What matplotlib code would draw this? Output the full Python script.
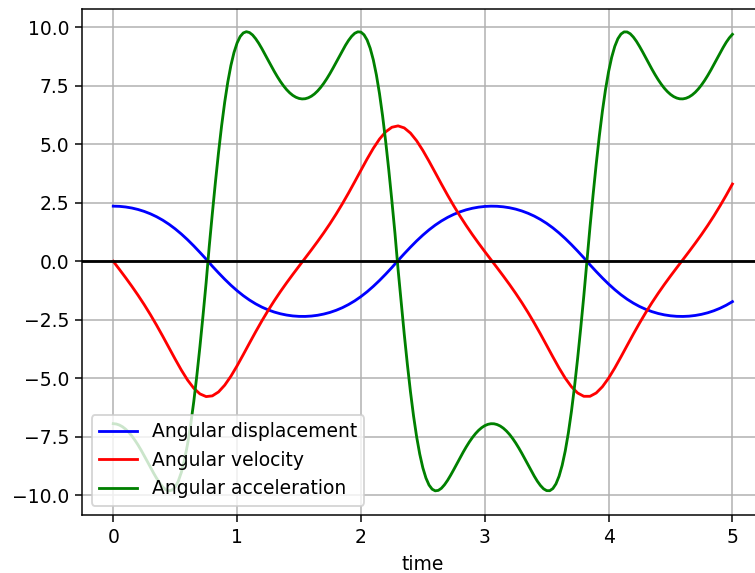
import numpy as np
import matplotlib
matplotlib.use('Agg')
import matplotlib.pyplot as plt

# time grids: 0.05 s for displacement / velocity, 0.025 s for acceleration
time = np.linspace(0, 5, 101)
time_acc = np.linspace(0, 5, 201)

angular_displacement = [
    2.356, 2.348, 2.321, 2.277, 2.214, 2.132, 2.029, 1.904, 1.756, 1.583,
    1.386, 1.165, 0.922, 0.659, 0.380, 0.093,
    -0.209, -0.493, -0.766, -1.022, -1.256, -1.468, -1.655, -1.818, -1.957,
    -2.073, -2.168, -2.242, -2.297, -2.334, -2.353,
    -2.355, -2.339, -2.306, -2.254, -2.184, -2.093, -1.982, -1.847, -1.690,
    -1.507, -1.301, -1.070, -0.819, -0.549, -0.266,
    0.035, 0.324, 0.604, 0.871, 1.118, 1.344, 1.546, 1.723, 1.876, 2.006,
    2.113, 2.200, 2.266, 2.314, 2.344, 2.356,
    2.351, 2.328, 2.288, 2.229, 2.150, 2.051, 1.931, 1.787, 1.620, 1.428,
    1.211, 0.972, 0.712, 0.437, 0.151,
    -0.151, -0.437, -0.712, -0.972, -1.211, -1.428, -1.620, -1.787, -1.931,
    -2.051, -2.150, -2.229, -2.288, -2.328, -2.351,
    -2.356, -2.344, -2.314, -2.266, -2.200, -2.113, -2.006, -1.876, -1.723,
]

angular_velocity = [
    0.000, -0.347, -0.701, -1.067, -1.449, -1.852, -2.279, -2.731, -3.205,
    -3.692, -4.180, -4.649, -5.073, -5.421, -5.665, -5.780,
    -5.750, -5.582, -5.293, -4.911, -4.465, -3.986, -3.496, -3.013, -2.547,
    -2.105, -1.688, -1.293, -0.919, -0.559, -0.208,
    0.139, 0.488, 0.846, 1.217, 1.607, 2.020, 2.457, 2.918, 3.399, 3.888,
    4.372, 4.826, 5.223, 5.533, 5.727,
    5.786, 5.699, 5.479, 5.150, 4.738, 4.276, 3.790, 3.301, 2.824, 2.368,
    1.935, 1.528, 1.141, 0.773, 0.417, 0.069,
    -0.277, -0.630, -0.992, -1.371, -1.769, -2.192, -2.639, -3.108, -3.594,
    -4.083, -4.558, -4.993, -5.359, -5.626, -5.768,
    -5.768, -5.626, -5.359, -4.993, -4.558, -4.083, -3.594, -3.108, -2.639,
    -2.192, -1.769, -1.371, -0.992, -0.630, -0.277,
    0.069, 0.417, 0.773, 1.141, 1.528, 1.935, 2.368, 2.824, 3.301,
]

angular_acceleration = [
    -6.937, -6.952, -6.997, -7.071, -7.174, -7.305, -7.462, -7.644, -7.847,
    -8.069, -8.305, -8.550, -8.798, -9.041, -9.271, -9.475, -9.643, -9.759,
    -9.809, -9.776, -9.643, -9.395, -9.014, -8.491, -7.815, -6.985, -6.003,
    -4.884, -3.642, -2.309, -0.913,
    0.630, 2.034, 3.382, 4.644, 5.790, 6.800, 7.661, 8.367, 8.921, 9.328,
    9.604, 9.757, 9.810, 9.774, 9.671, 9.511, 9.314, 9.088, 8.848, 8.599,
    8.354, 8.115, 7.890, 7.682, 7.497, 7.334, 7.198, 7.089, 7.010, 6.959,
    6.937, 6.946, 6.986, 7.054, 7.151, 7.277, 7.429, 7.606, 7.805, 8.023,
    8.257, 8.501, 8.749, 8.995, 9.227, 9.438, 9.613, 9.742, 9.805, 9.792,
    9.679, 9.456, 9.101, 8.608, 7.962, 7.163, 6.211, 5.117, 3.898, 2.580,
    1.194,
    -0.346, -1.755, -3.119, -4.399, -5.572, -6.609, -7.501, -8.238, -8.823,
    -9.258, -9.559, -9.735, -9.807, -9.788, -9.697, -9.547, -9.357, -9.135,
    -8.897, -8.649, -8.402, -8.162, -7.934, -7.722, -7.532, -7.365, -7.223,
    -7.109, -7.023, -6.967, -6.939, -6.942, -6.976, -7.038, -7.130, -7.250,
    -7.396, -7.569, -7.763, -7.978, -8.209, -8.452, -8.699, -8.946, -9.181,
    -9.398, -9.581, -9.721, -9.798, -9.801, -9.709, -9.510, -9.183, -8.718,
    -8.103, -7.335, -6.413, -5.347, -4.151, -2.851, -1.475,
    0.000, 1.475, 2.851, 4.151, 5.347, 6.413, 7.335, 8.103, 8.718, 9.183,
    9.510, 9.709, 9.801, 9.798, 9.721, 9.581, 9.398, 9.181, 8.946, 8.699,
    8.452, 8.209, 7.978, 7.763, 7.569, 7.396, 7.250, 7.130, 7.038, 6.976,
    6.942, 6.939, 6.967, 7.023, 7.109, 7.223, 7.365, 7.532, 7.722, 7.934,
    8.162, 8.402, 8.649, 8.897, 9.135, 9.357, 9.547, 9.697,
]

dpi = 135
fig = plt.figure(figsize=(755 / dpi, 573 / dpi), dpi=dpi)
# the right edge of the axes runs past the picture, as in the original
ax = fig.add_axes([0.109, 0.1012, 0.9021, 0.8831])

ax.plot(time, angular_displacement, 'b', label='Angular displacement')
ax.plot(time, angular_velocity, 'r', label='Angular velocity')
ax.plot(time_acc, angular_acceleration, 'g', label='Angular acceleration')
ax.axhline(0, color='k', linewidth=1.5)

ax.set_xlim(-0.25, 5.25)
ax.set_ylim(-10.84, 10.78)
ax.set_xlabel('time')
ax.grid(True)
ax.legend(loc='lower left')

fig.savefig('out.png', dpi=dpi)
